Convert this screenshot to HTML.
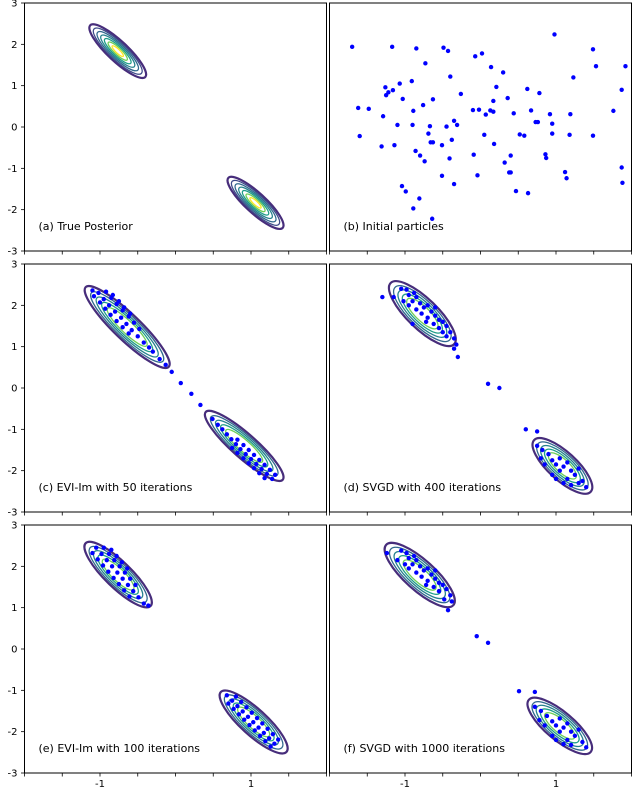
<!DOCTYPE html>
<html><head><meta charset="utf-8"><style>
html,body{margin:0;padding:0;background:#fff}
svg{display:block;font-family:"DejaVu Sans","Liberation Sans",sans-serif}
</style></head><body>
<svg id="fig" width="632" height="792" viewBox="0 0 632 792" xmlns="http://www.w3.org/2000/svg"></svg>
<script>
// ---- data ----
const xTicks=[-2,-1.5,-1,-0.5,0,0.5,1,1.5,2];
const xTickLabels={"-1":"-1","1":"1"};
const yTicks=[3,2,1,0,-1,-2,-3];
const panelTitles=["(a) True Posterior","(b) Initial particles","(c) EVI-Im with 50 iterations","(d) SVGD with 400 iterations","(e) EVI-Im with 100 iterations","(f) SVGD with 1000 iterations"];
// contour blobs: [x1,y1,x2,y2,halfWidthPx]
const contoursA=[[-1.13,2.46,-0.40,1.21,10],[0.70,-1.23,1.42,-2.44,10]];
const contoursC=[[-1.19,2.44,-0.09,0.51,13],[0.40,-0.58,1.42,-2.22,12]];
const contoursD=[[-1.19,2.54,-0.35,1.06,15],[0.71,-1.26,1.46,-2.51,14]];
const contoursE=[[-1.19,2.56,-0.33,1.04,13],[0.60,-1.04,1.47,-2.49,13]];
const contoursF=[[-1.25,2.52,-0.36,1.06,15],[0.64,-1.23,1.46,-2.49,14]];
const pointsB=[[-1.70,1.94],[-1.17,1.94],[-0.85,1.90],[-0.49,1.92],[-0.43,1.84],[0.98,2.24],[1.49,1.88],[-0.07,1.71],[0.02,1.78],[-0.73,1.54],[0.14,1.45],[0.30,1.32],[1.53,1.47],[1.92,1.47],[-0.40,1.22],[1.23,1.20],[-1.26,0.96],[-1.07,1.05],[-0.91,1.11],[-1.16,0.89],[-1.22,0.84],[-1.25,0.77],[0.21,0.97],[-0.26,0.80],[0.62,0.92],[0.78,0.82],[1.87,0.90],[-1.03,0.68],[-0.63,0.67],[0.17,0.63],[0.36,0.70],[-1.62,0.46],[-1.48,0.44],[-0.89,0.39],[-0.76,0.53],[-0.10,0.41],[-0.02,0.42],[0.13,0.40],[0.17,0.37],[0.07,0.30],[0.44,0.33],[0.67,0.40],[0.92,0.31],[1.19,0.31],[1.76,0.39],[-1.29,0.26],[-0.35,0.15],[-0.31,0.05],[-1.10,0.05],[-0.90,0.05],[-0.67,0.02],[-0.45,0.01],[0.73,0.12],[0.76,0.12],[0.95,0.08],[-1.60,-0.22],[-0.69,-0.16],[0.05,-0.19],[0.52,-0.18],[0.58,-0.21],[0.95,-0.16],[1.18,-0.19],[1.49,-0.21],[-1.31,-0.47],[-1.14,-0.44],[-0.66,-0.37],[-0.63,-0.37],[-0.51,-0.44],[-0.38,-0.31],[0.18,-0.41],[-0.86,-0.58],[-0.80,-0.69],[-0.74,-0.83],[-0.41,-0.76],[-0.09,-0.67],[0.40,-0.69],[0.86,-0.66],[0.87,-0.75],[0.32,-0.86],[-0.51,-1.18],[-0.04,-1.17],[0.38,-1.10],[0.40,-1.10],[1.12,-1.09],[1.14,-1.24],[1.87,-0.98],[-0.35,-1.38],[1.88,-1.35],[-1.04,-1.43],[-0.99,-1.56],[0.47,-1.55],[0.63,-1.60],[-0.81,-1.73],[-0.89,-1.97],[-0.64,-2.22]];
const pointsC=[[-1.02,2.3],[-0.95,2.15],[-0.88,2.0],[-0.8,1.85],[-0.72,1.7],[-0.65,1.55],[-0.58,1.4],[-0.5,1.25],[-0.42,1.1],[-0.92,2.33],[-0.85,2.18],[-0.78,2.03],[-0.7,1.88],[-0.62,1.73],[-0.55,1.58],[-0.48,1.43],[-1.08,2.22],[-1.0,2.07],[-0.93,1.92],[-0.86,1.77],[-0.78,1.62],[-0.7,1.47],[-0.62,1.32],[-0.83,2.25],[-0.75,2.1],[-0.68,1.95],[-0.6,1.8],[-1.1,2.36],[-0.35,0.98],[-0.3,0.88],
[-0.21,0.7],[-0.13,0.56],[-0.05,0.39],[0.07,0.12],[0.21,-0.14],[0.33,-0.41],[0.49,-0.75],[0.56,-0.89],
[0.62,-1.0],[0.68,-1.12],[0.74,-1.24],[0.8,-1.36],[0.86,-1.48],[0.93,-1.6],[1.0,-1.72],[1.07,-1.84],[1.14,-1.96],[1.21,-2.08],[1.28,-2.2],[0.82,-1.25],[0.9,-1.38],[0.97,-1.5],[1.04,-1.62],[1.11,-1.74],[1.18,-1.86],[1.25,-1.98],[1.32,-2.1],[0.75,-1.45],[0.82,-1.57],[0.9,-1.7],[0.97,-1.82],[1.04,-1.94],[1.11,-2.06],[1.18,-2.18]];
const pointsD=[[-1.05,2.4],[-0.98,2.38],[-1.15,2.2],[-0.95,2.25],[-0.9,2.1],[-0.85,2.2],[-0.8,2.05],[-0.95,2.0],[-0.75,1.95],[-0.7,2.0],[-0.85,1.9],[-0.65,1.85],[-0.78,1.8],[-0.6,1.75],[-0.7,1.7],[-0.55,1.65],[-0.62,1.55],[-0.5,1.6],[-0.45,1.5],[-0.55,1.45],[-0.4,1.35],[-0.45,1.25],[-0.35,1.2],[-0.9,1.55],[-0.32,1.05],[-0.6,1.95],[-0.88,2.3],[-1.02,2.1],[-0.72,1.6],[-0.5,1.35],
[-1.3,2.2],[-0.35,0.95],[-0.3,0.75],[0.1,0.1],[0.25,0.0],[0.6,-1.0],[0.75,-1.05],
[0.75,-1.4],[0.82,-1.5],[0.9,-1.6],[0.8,-1.7],[0.95,-1.75],[1.05,-1.7],[1.0,-1.85],[1.1,-1.9],[1.15,-1.8],[1.2,-2.0],[1.05,-2.0],[1.25,-2.1],[1.3,-1.95],[0.95,-2.1],[1.15,-2.2],[1.35,-2.25],[1.4,-2.4],[1.2,-2.35],[1.3,-2.3],[0.85,-1.85],[1.0,-2.2],[1.1,-2.3]];
const pointsE=[[-1.05,2.45],[-0.98,2.3],[-0.91,2.15],[-0.84,2.0],[-0.77,1.85],[-0.7,1.7],[-0.63,1.55],[-0.56,1.4],[-0.49,1.25],[-0.42,1.1],[-0.95,2.45],[-0.88,2.3],[-0.81,2.15],[-0.74,2.0],[-0.67,1.85],[-0.6,1.7],[-0.53,1.55],[-1.1,2.32],[-1.03,2.17],[-0.96,2.02],[-0.89,1.87],[-0.82,1.72],[-0.75,1.57],[-0.68,1.42],[-0.61,1.27],[-0.85,2.4],[-0.78,2.25],[-0.71,2.1],[-0.64,1.95],[-0.36,1.05],
[0.68,-1.12],[0.75,-1.25],[0.82,-1.38],[0.89,-1.51],[0.96,-1.64],[1.03,-1.77],[1.1,-1.9],[1.17,-2.03],[1.24,-2.16],[1.31,-2.29],[0.8,-1.15],[0.87,-1.28],[0.94,-1.41],[1.01,-1.54],[1.08,-1.67],[1.15,-1.8],[1.22,-1.93],[1.29,-2.06],[1.36,-2.19],[0.7,-1.32],[0.77,-1.45],[0.84,-1.58],[0.91,-1.71],[0.98,-1.84],[1.05,-1.97],[1.12,-2.1],[1.19,-2.23],[1.26,-2.36]];
const pointsF=[[-1.24,2.32],[-1.05,2.38],[-0.98,2.32],[-1.1,2.15],[-0.95,2.2],[-0.9,2.05],[-0.85,2.15],[-0.8,2.0],[-0.95,1.95],[-0.75,1.9],[-0.7,1.95],[-0.85,1.85],[-0.65,1.8],[-0.78,1.75],[-0.6,1.7],[-0.7,1.65],[-0.55,1.6],[-0.62,1.5],[-0.5,1.55],[-0.45,1.45],[-0.55,1.4],[-0.4,1.3],[-0.48,1.2],[-0.38,1.15],[-0.6,1.9],[-0.88,2.25],[-1.0,2.05],[-0.72,1.55],
[-0.43,0.94],[-0.05,0.31],[0.10,0.15],[0.51,-1.02],[0.72,-1.04],
[0.72,-1.4],[0.8,-1.5],[0.88,-1.62],[0.78,-1.72],[0.95,-1.75],[1.05,-1.68],[1.0,-1.85],[1.1,-1.9],[1.15,-1.8],[1.2,-2.0],[1.05,-2.0],[1.25,-2.1],[1.3,-1.95],[0.95,-2.1],[1.15,-2.2],[1.35,-2.25],[1.4,-2.38],[1.2,-2.32],[0.85,-1.85],[1.0,-2.2],[1.1,-2.3]];

// ---- layout ----
const NS="http://www.w3.org/2000/svg";
const svg=document.getElementById('fig');
const cols=[{x0:24.5,w:302},{x0:329.5,w:302}];
const rows=[{y0:3,h:248},{y0:264,h:248},{y0:525,h:248}];
const levelScale=[1,0.86,0.73,0.6,0.47,0.34,0.2];
const levelColor=["#472d7b","#3e4a89","#31688e","#26828e","#1f9e89","#6ece58","#fde725"];
function mk(tag,attrs,parent){const e=document.createElementNS(NS,tag);for(const k in attrs)e.setAttribute(k,attrs[k]);(parent||svg).appendChild(e);return e;}
function panel(ci,ri,title,contours,points,fullContour){
  const c=cols[ci],r=rows[ri];
  const sx=v=>c.x0+(v+2)/4*c.w;
  const sy=v=>r.y0+(3-v)/6*r.h;
  const g=mk('g',{});
  
  
  if(contours){
    contours.forEach((b,bi)=>{
      const x1=sx(b[0]),y1=sy(b[1]),x2=sx(b[2]),y2=sy(b[3]);
      const cx=(x1+x2)/2,cy=(y1+y2)/2;
      const L=Math.hypot(x2-x1,y2-y1)/2;
      const ang=Math.atan2(y2-y1,x2-x1)*180/Math.PI;
      const n=fullContour?7:5;
      for(let k=0;k<n;k++){
        const e=mk('ellipse',{cx:cx,cy:cy,rx:L*levelScale[k],ry:b[4]*levelScale[k],transform:`rotate(${ang} ${cx} ${cy})`,fill:'none',stroke:levelColor[fullContour?k:Math.min(6,k+1)],'stroke-width':k==0?2.2:1.3},g);
        if(k==0) e.setAttribute('stroke','#472d7b');
        
        
      }
    });
  }
  if(points){
    points.forEach(p=>{
      const d=mk('circle',{cx:sx(p[0]),cy:sy(p[1]),r:2.2,fill:'#0000ff'},g);
      
      
    });
  }
  const fr=mk('rect',{x:c.x0,y:r.y0,width:c.w,height:r.h,fill:'none',stroke:'#000','stroke-width':1},g);
  
  
  xTicks.forEach(t=>{
    const tk=mk('line',{x1:sx(t),x2:sx(t),y1:r.y0+r.h,y2:r.y0+r.h+3.5,stroke:'#000','stroke-width':0.8},g);
    
    
    if(ri==2 && xTickLabels[String(t)]){
      const tl=mk('text',{x:sx(t),y:787,'font-size':10,'text-anchor':'middle'},g);
      tl.textContent=xTickLabels[String(t)];
      
      
    }
  });
  if(ci==0){
    yTicks.forEach(t=>{
      const tk=mk('line',{x1:c.x0-3.5,x2:c.x0,y1:sy(t),y2:sy(t),stroke:'#000','stroke-width':0.8},g);
      
      
      const tl=mk('text',{x:c.x0-7,y:sy(t)+3.5,'font-size':10,'text-anchor':'end'},g);
      tl.textContent=String(t);
      
      
    });
  }
  const tt=mk('text',{x:c.x0+14,y:r.y0+r.h-21,'font-size':11},g);
  tt.textContent=title;
  
  
}
panel(0,0,panelTitles[0],contoursA,null,true);
panel(1,0,panelTitles[1],null,pointsB,false);
panel(0,1,panelTitles[2],contoursC,pointsC,false);
panel(1,1,panelTitles[3],contoursD,pointsD,false);
panel(0,2,panelTitles[4],contoursE,pointsE,false);
panel(1,2,panelTitles[5],contoursF,pointsF,false);
</script>
</body></html>
